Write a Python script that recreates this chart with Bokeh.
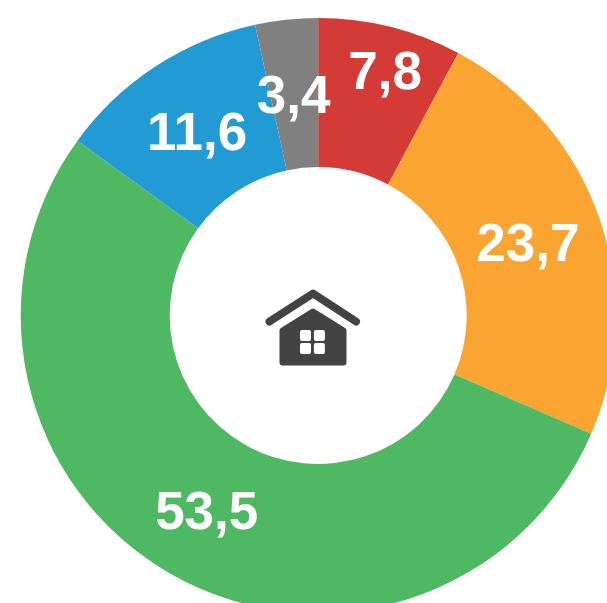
from math import pi, sin, cos
from bokeh.plotting import figure
from bokeh.models import ColumnDataSource, Range1d
from bokeh.core.properties import value
from bokeh.embed import file_html
from bokeh.resources import INLINE

values = [7.8, 23.7, 53.5, 11.6, 3.4]
labels = ["7,8", "23,7", "53,5", "11,6", "3,4"]
colors = ["#D43A36", "#FAA431", "#4FB862", "#229BD5", "#808080"]
label_radius = [253, 221, 225, 220, 222]
label_nudge_x = [5.5, 1, 0, -1, -1]

W, H = 607, 603
CX, CY = 317.7, 315   # centre, measured from the plot's top-left
OUTER, INNER = 297.5, 148.5

p = figure(width=W, height=H, output_backend="svg", toolbar_location=None,
           x_range=Range1d(-CX, W - CX), y_range=Range1d(-(H - CY), CY),
           min_border=0, outline_line_color=None, background_fill_color="white",
           border_fill_color="white")
p.axis.visible = False
p.grid.visible = False

total = sum(values)
starts, ends, lx, ly = [], [], [], []
acc = 0.0
for v, r, n in zip(values, label_radius, label_nudge_x):
    a0 = pi / 2 - 2 * pi * acc / total
    a1 = pi / 2 - 2 * pi * (acc + v) / total
    starts.append(a0)
    ends.append(a1)
    mid = (a0 + a1) / 2
    lx.append(r * cos(mid) + n)
    ly.append(r * sin(mid))
    acc += v

src = ColumnDataSource(dict(start=starts, end=ends, color=colors, x=lx, y=ly, label=labels))
p.annular_wedge(x=0, y=0, inner_radius=INNER, outer_radius=OUTER, start_angle="start",
                end_angle="end", direction="clock", fill_color="color", line_color=None, source=src)
p.text(x="x", y="y", text="label", source=src, text_color="white", text_align="center",
       text_baseline="middle", text_font=value("Liberation Sans"), text_font_style="bold",
       text_font_size="53px")


def px(pts):
    return [a - CX for a, b in pts], [CY - b for a, b in pts]


ICON = "#434343"
rx, ry = px([(269, 321), (312.5, 293), (355.5, 321)])
p.line(rx, ry, line_color=ICON, line_width=8, line_join="round", line_cap="round")
bx, by = px([(312.5, 311), (343, 330), (343, 362), (282, 362), (282, 330)])
p.patch(bx, by, fill_color=ICON, line_color=ICON, line_width=6, line_join="round")
for x0, y0 in [(301.5, 331.5), (315.4, 331.5), (301.5, 344.6), (315.4, 344.6)]:
    wx, wy = px([(x0, y0), (x0 + 7, y0), (x0 + 7, y0 + 7), (x0, y0 + 7)])
    p.patch(wx, wy, fill_color="white", line_color="white", line_width=4, line_join="round")

html = file_html(p, INLINE)
open("out.html", "w").write(html)
